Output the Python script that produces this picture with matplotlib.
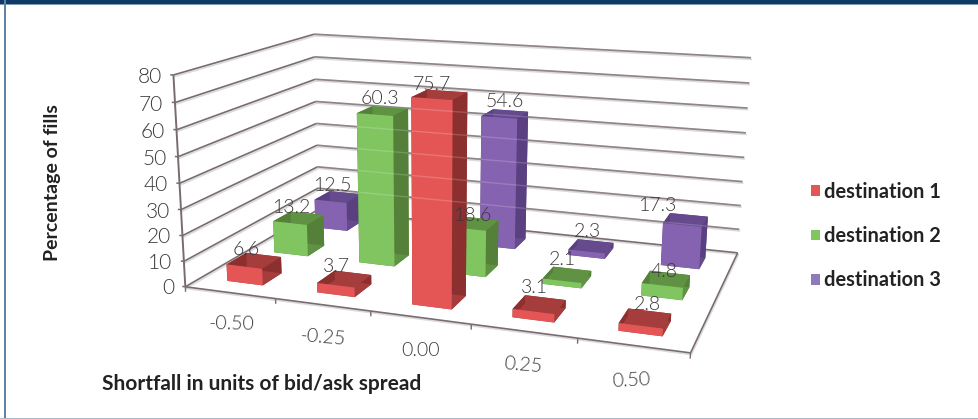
import numpy as np
import matplotlib
matplotlib.use("Agg")
import matplotlib.pyplot as plt
import matplotlib.patheffects as pe
from matplotlib.patches import Patch, Rectangle
from mpl_toolkits.mplot3d import proj3d
from mpl_toolkits.mplot3d.art3d import Line3DCollection

# Chart content
categories = ["-0.50", "-0.25", "0.00", "0.25", "0.50"]
series_names = ["destination 1", "destination 2", "destination 3"]
destination_1 = [6.6, 3.7, 75.7, 3.1, 2.8]
destination_2 = [13.2, 60.3, 18.6, 2.1, 4.8]
destination_3 = [12.5, 0.0, 54.6, 2.3, 17.3]
z_ticks = list(range(0, 90, 10))

# Bar face colours: front, top, side
palette = {
    0: ("#e45656", "#a63d3d", "#8c2f2f"),
    1: ("#80c560", "#5f9343", "#55803a"),
    2: ("#8563b0", "#654a8e", "#5a4080"),
}
TEXT = "#3c383b"
GRID = "#786c70"

plt.rcParams["font.family"] = ["Lato", "DejaVu Sans"]
fig = plt.figure(figsize=(9.79, 4.19), dpi=100, facecolor="white")
ax = fig.add_axes([0, 0, 1, 1], projection="3d", computed_zorder=False)
ax.set_axis_off()
ax.set_xlim(0, 5)
ax.set_ylim(0, 3)
ax.set_zlim(0, 80)
ax.set_xticks([])
ax.set_yticks([])
ax.set_zticks([])

# Camera calibration: box corners and axis ticks against their image positions.
camera_world = np.array([
    (0, 0, 0), (5, 0, 0), (5, 3, 0), (0, 3, 0), (0, 0, 80), (0, 3, 80), (5, 3, 80),
    (0, 0, 40), (0, 3, 40), (5, 3, 40), (1, 0, 0), (2, 0, 0), (3, 0, 0), (4, 0, 0),
], dtype=float)
camera_image = np.array([
    (186, 287), (691, 353), (738, 253), (318, 209), (173, 75), (315, 34), (751, 58),
    (179, 183), (316, 124), (744, 157), (276, 299), (371, 311), (471, 324), (577, 338),
], dtype=float)


def fit_camera(world, image):
    rows = []
    for (X, Y, Z), (u, v) in zip(world, image):
        rows.append([X, Y, Z, 1, 0, 0, 0, 0, -u * X, -u * Y, -u * Z, -u])
        rows.append([0, 0, 0, 0, X, Y, Z, 1, -v * X, -v * Y, -v * Z, -v])
    _, _, vt = np.linalg.svd(np.array(rows))
    p = vt[-1].reshape(3, 4)
    if p[2, 3] < 0:
        p = -p
    depth = np.array([-0.001, 1.0, -0.0001, 0.0]) * p[2, 3]
    return np.vstack([p[0], p[1], depth, p[2]])


M = fit_camera(camera_world, camera_image)
ax.get_proj = lambda: M
ax.apply_aspect = lambda position=None: None
ax.viewLim.intervalx = (0, 979)
ax.viewLim.intervaly = (419, 0)


def add_lines(segments, color=GRID, lw=1.2, zorder=1, alpha=None, effects=None):
    col = Line3DCollection(segments, colors=color, linewidths=lw, zorder=zorder, alpha=alpha)
    if effects:
        col.set_path_effects(effects)
    ax.add_collection3d(col)
    return col


def label_at(x, y, z, text, **kwargs):
    """Place a flat text at the projected position of a 3D point."""
    px, py, _ = proj3d.proj_transform(x, y, z, M)
    return ax.text2D(float(px), float(py), text, transform=ax.transData, zorder=50, color=TEXT, **kwargs)


# Walls and floor
grid_fx = [pe.SimpleLineShadow(offset=(0.6, -1.2), shadow_color="#999999", alpha=0.35), pe.Normal()]
wall_segments = []
for z in z_ticks:
    wall_segments.append([(0, 0, z), (0, 3, z)])
    wall_segments.append([(0, 3, z), (5, 3, z)])
add_lines(wall_segments, effects=grid_fx)
add_lines([[(0, 0, 0), (5, 0, 0)], [(5, 0, 0), (5, 3, 0)]], effects=grid_fx)
add_lines([[(0, 0, 0), (0, 0, 80)]], lw=1.4)
add_lines([[(-0.035, 0, z), (0, 0, z)] for z in z_ticks], lw=1.1)
add_lines([[(i, 0, -2), (i, 0, 0)] for i in range(len(categories) + 1)], lw=1.0)

# Bars, painted from the back row forward
BAR_W = 0.4
BAR_D = 0.4
series = [destination_1, destination_2, destination_3]
z_order = 5
for s in (2, 1, 0):
    front, top, side = palette[s]
    for i, v in enumerate(series[s]):
        if v <= 0:
            continue
        ax.bar3d(i + 0.5 - BAR_W / 2, s + 0.5 - BAR_D / 2, 0, BAR_W, BAR_D, v,
                 color=[top, top, front, side, side, side], shade=False,
                 linewidth=0, zorder=z_order)
        z_order += 1

# Wall lines show faintly across the bars
add_lines([[(0, 3, z), (5, 3, z)] for z in z_ticks[1:]], color="white", lw=1.0, alpha=0.18, zorder=40)

# Data labels: horizontal and vertical nudges from the bar top
label_nudge = {
    (0, 0): (-0.2, -2), (0, 1): (-0.18, -1.5), (0, 2): (-0.15, -1), (0, 3): (-0.11, 0), (0, 4): (-0.02, -0.7),
    (1, 0): (-0.19, -1.8), (1, 1): (-0.12, 0), (1, 2): (-0.09, -2.6), (1, 3): (-0.10, -0.2), (1, 4): (-0.05, -3),
    (2, 0): (-0.17, -1.4), (2, 2): (-0.06, 0), (2, 3): (-0.09, 0), (2, 4): (-0.34, -1),
}
for s in (2, 1, 0):
    for i, v in enumerate(series[s]):
        if v <= 0:
            continue
        dx, dz = label_nudge[(s, i)]
        label_at(i + 0.5 + dx, s + 0.5 + BAR_D / 2, v + dz, f"{v:.1f}", ha="center", va="bottom",
                 fontsize=14, fontweight=300)

# Axis tick labels
for z in z_ticks:
    label_at(-0.13, 0, z - 1.2, str(z), ha="right", va="center", fontsize=15, fontweight=300)
x_label_tilt = [-1, -5, 0, -5, 3]
for i, (c, r) in enumerate(zip(categories, x_label_tilt)):
    label_at(i + 0.5, 0, -12.5, c, ha="center", va="center", rotation=r, rotation_mode="anchor",
             fontsize=14, fontweight=300)

# Axis titles and legend
fig.text(53 / 979, 1 - 183 / 419, "Percentage of fills", rotation=90, ha="center", va="center",
         fontsize=14, fontweight="bold", color="#222222")
fig.text(262 / 979, 1 - 384 / 419, "Shortfall in units of bid/ask spread", ha="center", va="center",
         fontsize=15, fontweight="bold", color="#222222")
handles = [Patch(facecolor=c, edgecolor="none") for c in ("#e45656", "#80c560", "#9079b8")]
fig.legend(handles, series_names, loc="center left", bbox_to_anchor=(811 / 979, 1 - 236 / 419),
           frameon=False, borderpad=0, borderaxespad=0, handlelength=0.45, handleheight=0.45,
           handletextpad=0.2, labelspacing=1.22,
           prop={"weight": "bold", "size": 14.4}, labelcolor="#222222")

# Page frame
fig.add_artist(Rectangle((0, 1 - 4 / 419), 1, 4 / 419, transform=fig.transFigure, facecolor="#0f3a66", edgecolor="none"))
fig.add_artist(Rectangle((0, 1 - 5 / 419), 1, 1 / 419, transform=fig.transFigure, facecolor="#7f9db8", edgecolor="none"))
fig.add_artist(Rectangle((4 / 979, 0), 2 / 979, 1, transform=fig.transFigure, facecolor="#5f83a6", edgecolor="none"))
fig.add_artist(Rectangle((0, 0), 1, 1.5 / 419, transform=fig.transFigure, facecolor="#a9b9c9", edgecolor="none"))

fig.savefig("out.png", dpi=100)
